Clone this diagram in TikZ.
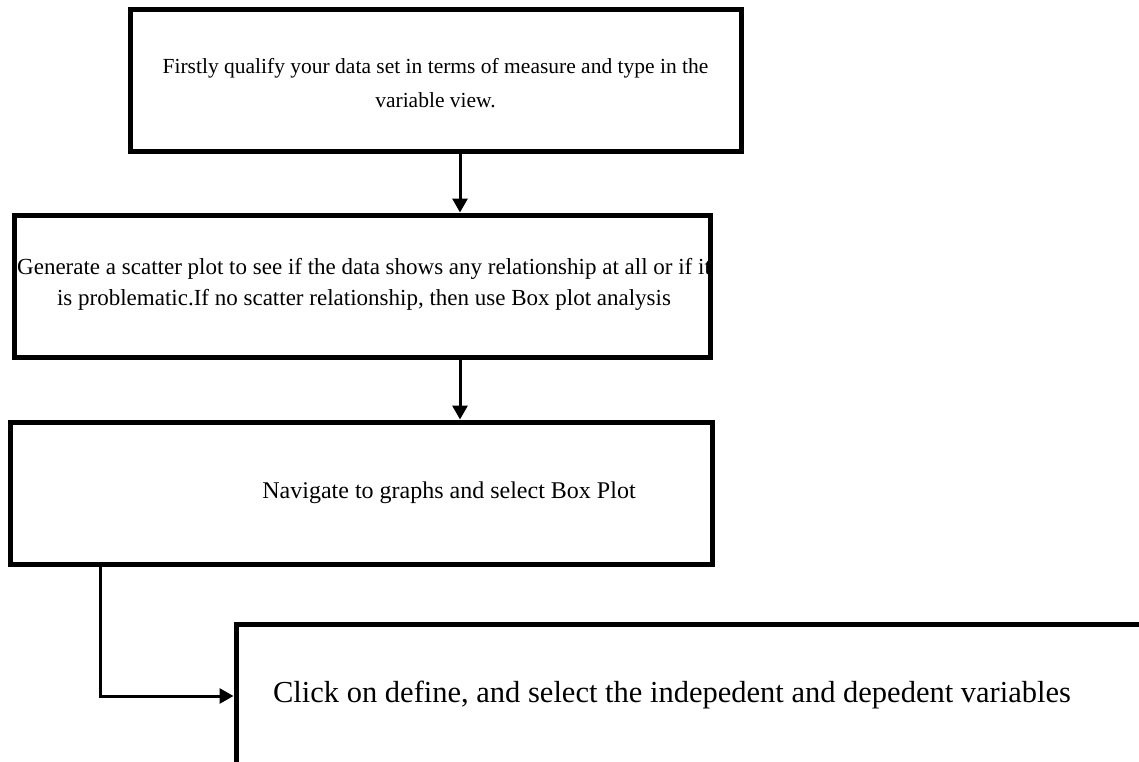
\documentclass[tikz,border=0pt]{standalone}
\usepackage{fontspec}
\setmainfont{Liberation Serif}
\usetikzlibrary{arrows.meta}
\tikzset{
  box/.style={draw=black, line width=5pt, rectangle, inner sep=0pt},
  txt/.style={align=flush center, inner sep=0pt},
  arr/.style={draw=black, line width=3pt, -{Triangle[width=15pt,length=14pt]}},
}
\begin{document}
\begin{tikzpicture}[x=1pt,y=-1pt]
\useasboundingbox (0,0) rectangle (1139,762);
\clip (0,0) rectangle (1139,762);
\node[box, minimum width=611pt, minimum height=142pt] (b1) at (435.5,81) {};
\node[txt, font=\fontsize{21.5}{34}\selectfont] (t1) at (435.5,83)
  {Firstly qualify your data set in terms of measure and type in the\\variable view.};
\node[box, minimum width=696pt, minimum height=142pt] (b2) at (362,286) {};
\node[txt, font=\fontsize{23}{31}\selectfont] (t2) at (364,284)
  {Generate a scatter plot to see if the data shows any relationship at all or if it\\is problematic.If no scatter relationship, then use Box plot analysis};
\node[box, minimum width=702pt, minimum height=142pt] (b3) at (361,493) {};
\node[txt, font=\fontsize{24}{30}\selectfont] (t3) at (449,493)
  {Navigate to graphs and select Box Plot};
\node[box, minimum width=908pt, minimum height=144pt] (b4) at (690,696) {};
\node[txt, font=\fontsize{30.5}{36}\selectfont] (t4) at (672,695)
  {Click on define, and select the indepedent and depedent variables};
\coordinate (xa) at (460,0);
\coordinate (xb) at (100,0);
\draw[arr] (b1.south -| xa) -- (b2.north -| xa);
\draw[arr] (b2.south -| xa) -- (b3.north -| xa);
\draw[arr] (b3.south -| xb) |- (b4.west);
\end{tikzpicture}
\end{document}
